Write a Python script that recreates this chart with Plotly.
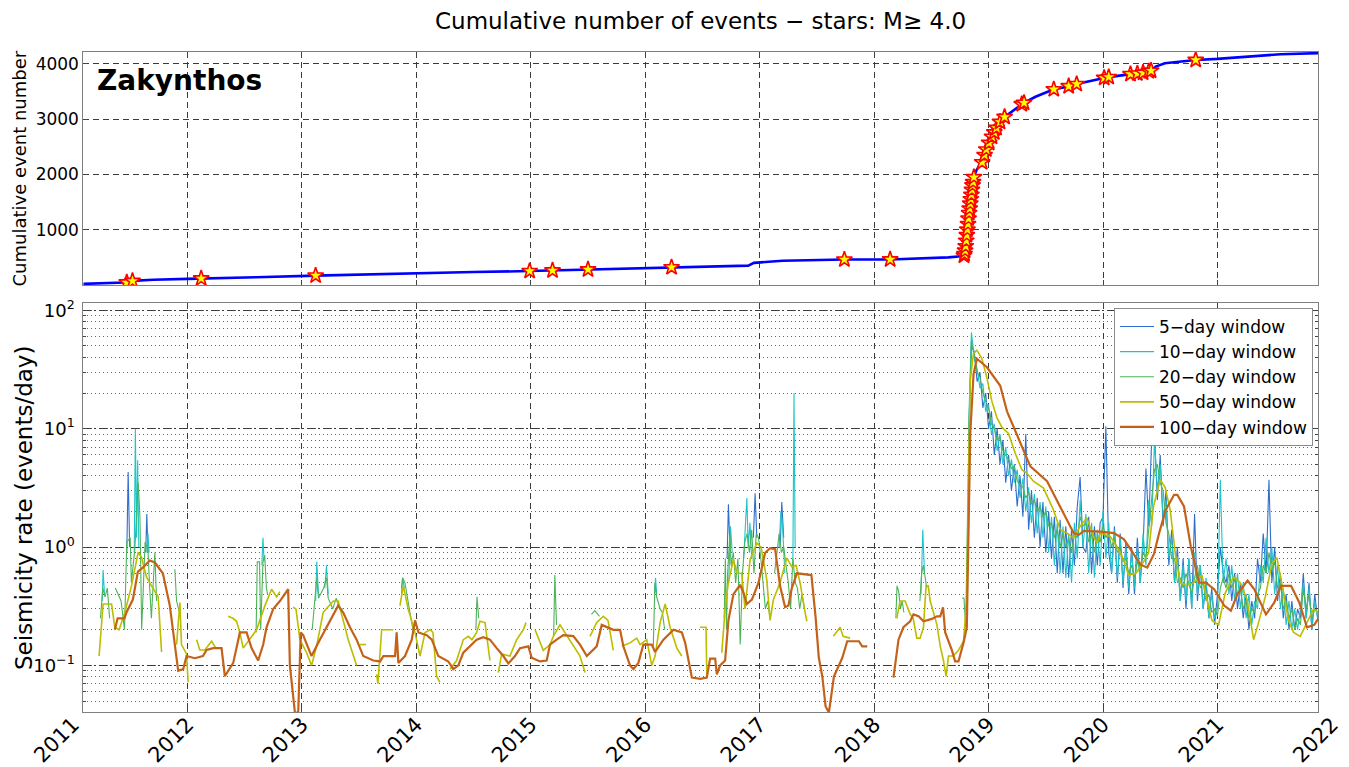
import plotly.graph_objects as go

# ---------------- data (decimal years) ----------------
cum_year = [2011.09, 2011.30, 2011.45, 2011.52, 2011.70, 2012.00, 2012.12, 2012.60, 2013.12, 2013.60,
            2014.00, 2014.50, 2014.99, 2015.19, 2015.50, 2015.90, 2016.23, 2016.48, 2016.70, 2016.90,
            2016.95, 2017.20, 2017.74, 2018.14, 2018.65, 2018.76, 2018.79, 2018.80, 2018.815, 2018.83,
            2018.845, 2018.86, 2018.875, 2018.895, 2018.94, 2018.98, 2019.03, 2019.07, 2019.14, 2019.30,
            2019.41, 2019.57, 2019.73, 2019.77, 2020.01, 2020.05, 2020.24, 2020.35, 2020.42, 2020.46,
            2020.54, 2020.81, 2021.00, 2021.29, 2021.55, 2021.882]
cum_count = [20, 35, 45, 75, 95, 110, 118, 140, 170, 195,
             215, 235, 252, 262, 280, 300, 320, 322, 330, 350,
             400, 440, 460, 462, 500, 520, 540, 700, 1000, 1300,
             1550, 1800, 1980, 2080, 2220, 2450, 2680, 2840, 3040, 3285,
             3405, 3540, 3600, 3635, 3745, 3760, 3815, 3840, 3877, 3950,
             4010, 4070, 4090, 4130, 4175, 4195]

star_year = [2011.47, 2011.52, 2012.12, 2013.12, 2014.99, 2015.19, 2015.50, 2016.23, 2017.74, 2018.14,
             2018.785, 2018.79, 2018.795, 2018.80, 2018.805, 2018.81, 2018.815, 2018.82, 2018.825, 2018.83,
             2018.835, 2018.84, 2018.845, 2018.85, 2018.855, 2018.86, 2018.865, 2018.872,
             2018.944, 2018.965, 2018.98, 2019.005, 2019.03, 2019.05, 2019.07, 2019.10, 2019.14, 2019.29,
             2019.31, 2019.57, 2019.70, 2019.77, 2020.01, 2020.05, 2020.24, 2020.30, 2020.35, 2020.40,
             2020.42, 2020.81]
star_count = [45, 72, 118, 170, 252, 262, 280, 320, 460, 462,
              530, 560, 620, 700, 800, 900, 1000, 1100, 1200, 1300,
              1380, 1470, 1550, 1630, 1720, 1800, 1860, 1950,
              2220, 2350, 2450, 2570, 2680, 2760, 2840, 2950, 3040, 3270,
              3295, 3540, 3595, 3635, 3745, 3760, 3815, 3825, 3840, 3865,
              3877, 4070]

r100_year = [2011.365, 2011.39, 2011.45, 2011.467, 2011.523, 2011.567, 2011.61, 2011.671, 2011.715, 2011.785,
             2011.846, 2011.89, 2011.919, 2011.963, 2011.992,
             2012.065, 2012.135, 2012.167, 2012.225, 2012.298, 2012.327, 2012.40, 2012.458, 2012.517, 2012.56,
             2012.618, 2012.662, 2012.691, 2012.749, 2012.808, 2012.88, 2012.895, 2012.939, 2012.968, 2012.99,
             2013.011, 2013.084, 2013.157, 2013.245, 2013.317, 2013.361, 2013.42, 2013.478, 2013.536, 2013.624,
             2013.683, 2013.712, 2013.814, 2013.828, 2013.843, 2013.901, 2013.96, 2013.989,
             2014.018, 2014.091, 2014.135, 2014.192, 2014.28, 2014.323, 2014.367, 2014.41, 2014.527, 2014.585,
             2014.643, 2014.702, 2014.76, 2014.804, 2014.862, 2014.906, 2014.979,
             2015.008, 2015.08, 2015.139, 2015.168, 2015.226, 2015.284, 2015.372, 2015.43, 2015.489, 2015.576,
             2015.62, 2015.721, 2015.78, 2015.809, 2015.867, 2015.897, 2015.94, 2015.984,
             2016.057, 2016.086, 2016.159, 2016.247, 2016.32, 2016.349, 2016.407, 2016.48, 2016.538, 2016.567,
             2016.611, 2016.626, 2016.654, 2016.698, 2016.727, 2016.771, 2016.829, 2016.859, 2016.888, 2016.932,
             2016.99,
             2017.047, 2017.091, 2017.135, 2017.178, 2017.222, 2017.251, 2017.281, 2017.325, 2017.426, 2017.452,
             2017.488, 2017.517, 2017.547, 2017.576, 2017.605, 2017.649, 2017.692, 2017.722, 2017.765, 2017.867,
             2017.896, 2017.94, None,
             2018.169, 2018.213, 2018.256, 2018.315, 2018.344, 2018.388, 2018.432, 2018.505, 2018.549, 2018.578,
             2018.602, 2018.621, 2018.68, 2018.708, 2018.737, 2018.781, 2018.81, 2018.825, 2018.84, 2018.869,
             2018.898, 2018.986,
             2019.102, 2019.161, 2019.277, 2019.365, 2019.511, 2019.627, 2019.744, 2019.788, 2019.832, 2019.978,
             2020.096, 2020.183, 2020.256, 2020.329, 2020.387, 2020.446, 2020.49, 2020.548, 2020.621, 2020.65,
             2020.708, 2020.767, 2020.839, 2020.898, 2020.971,
             2021.059, 2021.117, 2021.175, 2021.263, 2021.322, 2021.424, 2021.497, 2021.555, 2021.643, 2021.715,
             2021.782, 2021.846, 2021.882]
r100_val = [0.20, 0.25, 0.25, 0.28, 0.36, 0.62, 0.67, 0.77, 0.74, 0.60,
            0.32, 0.15, 0.09, 0.093, 0.12,
            0.115, 0.12, 0.135, 0.14, 0.14, 0.081, 0.105, 0.19, 0.19, 0.14,
            0.11, 0.15, 0.21, 0.30, 0.35, 0.44, 0.10, 0.04, 0.04, 0.19,
            0.18, 0.12, 0.165, 0.24, 0.32, 0.28, 0.21, 0.165, 0.12, 0.11,
            0.108, 0.12, 0.12, 0.19, 0.105, 0.12, 0.165, 0.24,
            0.19, 0.18, 0.165, 0.12, 0.108, 0.093, 0.10, 0.128, 0.165, 0.173,
            0.165, 0.14, 0.12, 0.104, 0.12, 0.14, 0.145,
            0.116, 0.108, 0.11, 0.15, 0.165, 0.18, 0.177, 0.15, 0.12, 0.145,
            0.22, 0.20, 0.20, 0.145, 0.10, 0.093, 0.105, 0.15,
            0.15, 0.13, 0.165, 0.20, 0.19, 0.155, 0.079, 0.077, 0.079, 0.114,
            0.114, 0.084, 0.10, 0.11, 0.24, 0.40, 0.48, 0.41, 0.33, 0.36,
            0.50,
            0.89, 0.98, 0.96, 0.47, 0.31, 0.32, 0.45, 0.60, 0.58, 0.58,
            0.26, 0.116, 0.081, 0.045, 0.04, 0.081, 0.10, 0.116, 0.16, 0.16,
            0.145, 0.145, None,
            0.079, 0.165, 0.21, 0.236, 0.27, 0.26, 0.236, 0.247, 0.26, 0.26,
            0.31, 0.19, 0.134, 0.108, 0.108, 0.155, 0.21, 1.31, 9.1, 29,
            39, 33,
            23, 14, 7.7, 4.8, 3.6, 2.2, 1.31, 1.27, 1.37, 1.35,
            1.31, 1.16, 0.90, 0.71, 0.67, 0.88, 1.31, 2.06, 2.76, 2.76,
            2.2, 1.01, 0.50, 0.50, 0.44,
            0.32, 0.29, 0.40, 0.52, 0.44, 0.27, 0.34, 0.47, 0.47, 0.34,
            0.21, 0.22, 0.25]

r50_year = [2011.228, 2011.263, 2011.337, 2011.365, 2011.403, 2011.453, 2011.511, 2011.569, 2011.599, 2011.642,
            2011.686, 2011.744, 2011.774, None,
            2011.905, 2011.934, 2011.948, 2011.992, 2012.006, None,
            2012.080, 2012.108, 2012.152, 2012.211, 2012.248, None,
            2012.356, 2012.397, 2012.429, 2012.458, 2012.487, 2012.604, 2012.677, 2012.735, 2012.779, 2012.808, None,
            2012.924, 2012.948, 2012.983, 2013.041, 2013.085, 2013.128, 2013.186, 2013.274, 2013.317, 2013.361,
            2013.405, 2013.478, None,
            2013.507, 2013.560, None,
            2013.653, 2013.664, 2013.697, 2013.798, None,
            2013.857, 2013.886, 2013.929, 2013.988, 2014.032, 2014.076, 2014.120, 2014.145, 2014.177, 2014.206, None,
            2014.294, 2014.352, 2014.410, 2014.454, 2014.486, 2014.527, 2014.556, 2014.600, 2014.643, None,
            2014.716, 2014.746, 2014.818, 2014.877, 2014.935, 2014.958, None,
            2015.037, 2015.109, 2015.168, 2015.197, 2015.255, 2015.299, 2015.369, 2015.430, 2015.474, None,
            2015.517, 2015.576, 2015.634, 2015.675, 2015.721, None,
            2015.795, 2015.867, 2015.926, 2015.955, 2016.013, 2016.057, 2016.086, 2016.130, 2016.174, 2016.217,
            2016.276, 2016.319, None,
            2016.479, 2016.531, 2016.538, None,
            2016.669, 2016.698, 2016.726, 2016.770, 2016.800, 2016.843, 2016.872, 2016.916, 2016.975, 2017.012,
            2017.062, 2017.091, 2017.120, 2017.178, 2017.237, 2017.281, 2017.318, 2017.353, 2017.397, 2017.412, None,
            2017.644, 2017.703, 2017.729, 2017.790, None,
            2018.198, 2018.227, 2018.271, 2018.315, 2018.341, 2018.373, 2018.402, 2018.431, 2018.454, 2018.473,
            2018.490, 2018.549, 2018.578, 2018.606, 2018.629, 2018.650, 2018.690, 2018.737, 2018.781, 2018.810,
            2018.825, 2018.839, 2018.868, 2018.898, 2018.942, 2018.985,
            2019.029, 2019.073, 2019.116, 2019.174, 2019.233, 2019.291, 2019.335, 2019.392, 2019.480, 2019.567,
            2019.626, 2019.685, 2019.742, 2019.801, 2019.859, 2019.917, 2019.947, 2019.976,
            2020.063, 2020.122, 2020.180, 2020.223, 2020.287, 2020.340, 2020.398, 2020.441, 2020.500, 2020.543,
            2020.587, 2020.631, 2020.675, 2020.733, 2020.791, 2020.865, 2020.908, 2020.952,
            2021.010, 2021.068, 2021.141, 2021.199, 2021.258, 2021.316, 2021.359, 2021.418, 2021.477, 2021.520,
            2021.578, 2021.621, 2021.665, 2021.723, 2021.782, 2021.840, 2021.882]
r50_val = [0.12, 0.33, 0.33, 0.21, 0.20, 0.28, 0.47, 0.90, 0.82, 0.56,
           0.47, 0.38, 0.13, None,
           0.15, 0.34, 0.15, 0.125, 0.072, None,
           0.165, 0.135, 0.135, 0.16, 0.14, None,
           0.26, 0.25, 0.236, 0.19, 0.14, 0.20, 0.32, 0.44, 0.38, 0.42, None,
           0.31, 0.30, 0.165, 0.128, 0.10, 0.145, 0.28, 0.35, 0.35, 0.24,
           0.165, 0.10, None,
           0.15, 0.15, None,
           0.084, 0.07, 0.20, 0.20, None,
           0.32, 0.47, 0.30, 0.19, 0.12, 0.19, 0.20, 0.19, 0.081, 0.072, None,
           0.093, 0.11, 0.165, 0.176, 0.165, 0.19, 0.236, 0.23, 0.11, None,
           0.087, 0.125, 0.12, 0.165, 0.20, 0.23, None,
           0.20, 0.134, 0.15, 0.176, 0.22, 0.19, 0.15, 0.12, 0.087, None,
           0.176, 0.23, 0.26, 0.24, 0.134, None,
           0.145, 0.155, 0.17, 0.15, 0.165, 0.10, 0.12, 0.23, 0.33, 0.21,
           0.14, 0.12, None,
           0.21, 0.21, 0.084, None,
           0.128, 0.30, 0.50, 0.78, 0.60, 0.60, 0.30, 0.78, 1.08, 1.0,
           0.53, 0.24, 0.36, 0.50, 0.81, 0.68, 0.70, 0.50, 0.28, 0.236, None,
           0.176, 0.21, 0.176, 0.17, None,
           0.25, 0.35, 0.35, 0.27, 0.25, 0.17, 0.17, 0.21, 0.47, 0.47,
           0.35, 0.22, 0.145, 0.11, 0.081, 0.12, 0.12, 0.134, 0.16, 0.36,
           3.5, 25, 43, 46, 39, 27,
           17, 12.4, 10.3, 9.1, 6.2, 4.5, 4.2, 3.6, 3.15, 2.06,
           1.4, 1.31, 1.19, 1.5, 1.76, 1.23, 1.08, 1.31,
           1.23, 1.01, 0.78, 0.58, 0.60, 0.71, 0.89, 2.2, 3.7, 3.2,
           2.06, 0.89, 0.50, 0.47, 0.50, 0.58, 0.36, 0.24,
           0.22, 0.41, 0.56, 0.50, 0.36, 0.165, 0.23, 0.38, 0.73, 0.81,
           0.41, 0.24, 0.19, 0.176, 0.23, 0.30, 0.28]

# short windows: sparse early segments
r20_early_year = [2011.24, 2011.26, 2011.28, 2011.30, 2011.32, None,
                  2011.37, 2011.40, 2011.42, 2011.45, 2011.47, 2011.50, 2011.51, 2011.54, 2011.57, 2011.585,
                  2011.60, 2011.63, 2011.655, 2011.67, 2011.685, 2011.715, 2011.73, None,
                  2011.89, 2011.905, 2011.93, None,
                  2012.60, 2012.61, 2012.63, 2012.64, 2012.66, 2012.675, 2012.69, 2012.70, None,
                  2013.09, 2013.13, 2013.145, 2013.19, 2013.215, 2013.23, 2013.27, 2013.30, 2013.33, 2013.36, None,
                  2013.87, 2013.88, 2013.90, 2013.92, 2013.95, 2013.97, None,
                  2014.52, 2014.53, 2014.545, None,
                  2015.20, 2015.21, 2015.225, None,
                  2015.53, 2015.56, 2015.60, None,
                  2016.07, 2016.085, 2016.10, 2016.13, 2016.15, 2016.17, None,
                  2016.69, 2016.70, 2016.71, 2016.72, 2016.74, 2016.75, 2016.77, 2016.79, 2016.81, 2016.83,
                  2016.85, 2016.87, 2016.89, 2016.91, 2016.93, 2016.95, 2016.97, 2016.99, 2017.01, 2017.03,
                  2017.05, 2017.07, 2017.09, None,
                  2017.13, 2017.15, 2017.17, 2017.19, 2017.21, 2017.23, 2017.25, 2017.27, 2017.29, 2017.31,
                  2017.33, 2017.35, 2017.37, 2017.39, None,
                  2018.19, 2018.20, 2018.215, 2018.23, 2018.245, 2018.26, None,
                  2018.40, 2018.415, 2018.43, 2018.445, 2018.46, None,
                  2018.77, 2018.785, 2018.80]
r20_early_val = [0.25, 0.45, 0.38, 0.45, 0.25, None,
                 0.45, 0.38, 0.35, 0.20, 1.1, 1.2, 0.5, 0.95, 3.5, 1.8,
                 0.2, 1.1, 0.95, 0.45, 0.25, 0.9, 0.35, None,
                 0.65, 0.35, 0.28, None,
                 0.19, 0.75, 0.75, 0.2, 0.75, 0.85, 0.45, 0.40, None,
                 0.20, 0.55, 0.37, 0.45, 0.55, 0.37, 0.30, 0.37, 0.30, 0.30, None,
                 0.45, 0.55, 0.50, 0.38, 0.25, 0.20, None,
                 0.20, 0.38, 0.25, None,
                 0.18, 0.58, 0.22, None,
                 0.27, 0.29, 0.26, None,
                 0.14, 0.5, 0.38, 0.3, 0.28, 0.2, None,
                 0.25, 0.8, 0.2, 0.6, 1.3, 0.7, 0.9, 0.5, 0.8, 0.15,
                 0.6, 1.1, 1.3, 0.9, 1.4, 0.6, 1.3, 1.2, 0.8, 0.5,
                 0.3, 0.35, 0.25, None,
                 0.6, 0.9, 1.3, 0.9, 1.0, 0.7, 0.5, 0.3, 0.8, 0.5,
                 0.45, 0.3, 0.4, 0.3, None,
                 0.25, 0.47, 0.42, 0.30, 0.35, 0.28, None,
                 0.35, 0.6, 0.7, 0.55, 0.45, None,
                 0.37, 0.37, 0.21]

r10_early_year = [2011.255, 2011.263, 2011.275, None,
                  2011.535, 2011.545, 2011.555, 2011.565, 2011.575, None,
                  2011.645, 2011.655, 2011.665, None,
                  2012.65, 2012.66, 2012.67, None,
                  2013.12, 2013.13, 2013.145, None,
                  2013.20, 2013.215, 2013.23, None,
                  2013.87, 2013.88, 2013.895, None,
                  2016.08, 2016.09, 2016.10, None,
                  2016.73, 2016.745, 2016.76, None,
                  2016.86, 2016.875, 2016.888, 2016.90, 2016.915, 2016.93, None,
                  2017.17, 2017.185, 2017.20, 2017.22, None,
                  2017.29, 2017.30, 2017.31, None,
                  2018.41, 2018.425, 2018.44, None]
r10_early_val = [0.35, 0.64, 0.40, None,
                 0.9, 10, 1.2, 5.4, 1.0, None,
                 0.9, 1.3, 0.9, None,
                 0.7, 1.2, 0.75, None,
                 0.35, 0.75, 0.40, None,
                 0.45, 0.70, 0.40, None,
                 0.40, 0.55, 0.45, None,
                 0.40, 0.55, 0.40, None,
                 0.5, 1.5, 0.9, None,
                 0.8, 1.8, 2.6, 1.0, 1.6, 0.8, None,
                 1.0, 2.0, 1.5, 0.6, None,
                 0.7, 20, 1.0, None,
                 0.4, 1.4, 0.6, None]

r5_early_year = [2011.47, 2011.482, 2011.495, None,
                 2011.635, 2011.645, 2011.655, None,
                 2016.715, 2016.727, 2016.74, None,
                 2016.945, 2016.96, 2016.975, None,
                 2017.18, 2017.193, 2017.21, None]
r5_early_val = [0.9, 4.3, 1.0, None,
                0.9, 1.9, 0.9, None,
                0.8, 2.3, 1.0, None,
                1.2, 2.85, 1.2, None,
                1.0, 2.4, 1.2, None]

# short windows: continuous record after the 2018 mainshock
dense_year = [2018.825, 2018.85, 2018.875, 2018.9, 2018.925, 2018.95, 2018.975,
              2019.0, 2019.025, 2019.05, 2019.075, 2019.1, 2019.125, 2019.15, 2019.175, 2019.2, 2019.225,
              2019.25, 2019.275, 2019.3, 2019.325, 2019.35, 2019.375, 2019.4, 2019.425, 2019.45, 2019.475,
              2019.5, 2019.525, 2019.55, 2019.575, 2019.6, 2019.625, 2019.65, 2019.675, 2019.7, 2019.725,
              2019.75, 2019.775, 2019.8, 2019.825, 2019.85, 2019.875, 2019.9, 2019.925, 2019.95, 2019.975,
              2020.0, 2020.025, 2020.05, 2020.075, 2020.1, 2020.125, 2020.15, 2020.175, 2020.2, 2020.225,
              2020.25, 2020.275, 2020.3, 2020.325, 2020.35, 2020.375, 2020.4, 2020.425, 2020.45, 2020.475,
              2020.5, 2020.525, 2020.55, 2020.575, 2020.6, 2020.625, 2020.65, 2020.675, 2020.7, 2020.725,
              2020.75, 2020.775, 2020.8, 2020.825, 2020.85, 2020.875, 2020.9, 2020.925, 2020.95, 2020.975,
              2021.0, 2021.025, 2021.05, 2021.075, 2021.1, 2021.125, 2021.15, 2021.175, 2021.2, 2021.225,
              2021.25, 2021.275, 2021.3, 2021.325, 2021.35, 2021.375, 2021.4, 2021.425, 2021.45, 2021.475,
              2021.5, 2021.525, 2021.55, 2021.575, 2021.6, 2021.625, 2021.65, 2021.675, 2021.7, 2021.725,
              2021.75, 2021.775, 2021.8, 2021.825, 2021.85, 2021.875]
r20_dense = [6, 55, 42, 30, 27, 20, 17,
             15, 11, 10, 8, 8.5, 6.5, 6, 5.5, 4.6, 4.8,
             3.6, 3.4, 3.2, 2.6, 2.9, 2.3, 2.5, 2.0, 2.2, 1.8,
             2.0, 1.5, 1.6, 1.2, 1.4, 1.0, 1.3, 1.0, 1.2, 0.9,
             1.3, 1.2, 1.8, 1.5, 1.6, 1.1, 1.3, 0.9, 1.2, 1.1,
             1.5, 1.2, 1.3, 1.0, 1.2, 0.9, 1.0, 0.75, 0.8, 0.6,
             0.7, 0.55, 0.75, 0.65, 0.9, 0.8, 1.5, 2.5, 4.5, 5.0,
             3.5, 3.0, 1.6, 1.3, 0.8, 0.8, 0.5, 0.55, 0.45, 0.6,
             0.5, 0.4, 0.55, 0.7, 0.45, 0.5, 0.35, 0.4, 0.28, 0.3,
             0.26, 0.45, 0.55, 0.45, 0.6, 0.45, 0.55, 0.4, 0.45, 0.3,
             0.35, 0.25, 0.3, 0.28, 0.4, 0.45, 0.7, 0.6, 0.9, 0.65,
             0.75, 0.45, 0.5, 0.3, 0.35, 0.25, 0.3, 0.2, 0.25, 0.22,
             0.45, 0.3, 0.4, 0.25, 0.3, 0.28]
r10_dense = [10, 65, 40, 32, 22, 24, 14,
             16, 9, 11, 6.5, 9, 5, 7, 4, 5.5, 3.5,
             4.5, 2.6, 3.8, 2.0, 3.2, 1.6, 2.8, 1.3, 2.4, 1.2,
             2.2, 0.9, 1.8, 0.7, 1.6, 0.6, 1.5, 0.55, 1.3, 0.5,
             1.6, 0.8, 2.5, 1.0, 1.9, 0.6, 1.6, 0.55, 1.4, 0.7,
             2.0, 0.8, 1.6, 0.6, 1.4, 0.55, 1.2, 0.5, 1.0, 0.45,
             0.9, 0.45, 1.0, 0.5, 1.3, 0.7, 2.5, 1.5, 8.0, 3.0,
             5.0, 1.8, 2.5, 0.8, 1.2, 0.5, 0.8, 0.35, 0.7, 0.35,
             0.8, 0.3, 0.9, 0.4, 0.7, 0.3, 0.55, 0.25, 0.4, 0.25,
             0.3, 3.7, 0.5, 0.8, 0.4, 0.7, 0.35, 0.6, 0.3, 0.5,
             0.25, 0.4, 0.22, 0.35, 0.3, 0.7, 0.5, 1.2, 0.6, 1.0,
             0.4, 0.7, 0.3, 0.45, 0.22, 0.35, 0.2, 0.3, 0.2, 0.3,
             0.5, 0.25, 0.45, 0.2, 0.35, 0.25]
r5_dense = [8, 50, 45, 25, 30, 15, 20,
            10, 14, 6, 10, 5, 8, 3.5, 6, 3, 5,
            2.2, 4, 1.8, 9, 1.4, 3, 1.2, 2.6, 1.0, 2.4,
            0.9, 2.0, 0.8, 1.8, 0.6, 1.7, 0.6, 1.5, 0.55, 1.4,
            0.7, 2.2, 3.9, 1.0, 0.9, 1.8, 0.6, 1.5, 0.7, 1.6,
            1.8, 10.5, 0.9, 0.6, 1.5, 0.5, 1.3, 0.45, 1.1, 0.4,
            1.0, 0.4, 1.2, 0.5, 1.0, 4.6, 1.5, 8.2, 8.9, 2.5,
            6.0, 1.5, 3.0, 0.7, 1.4, 0.5, 1.0, 0.35, 0.8, 0.3,
            0.8, 0.3, 1.9, 0.35, 0.7, 0.3, 0.5, 0.25, 0.45, 0.22,
            0.4, 1.0, 0.6, 0.5, 0.7, 0.35, 0.6, 0.3, 0.5, 0.25,
            0.4, 0.2, 0.35, 0.25, 0.8, 0.5, 1.3, 0.6, 3.7, 0.5,
            1.0, 0.35, 0.6, 0.25, 0.4, 0.2, 0.35, 0.2, 0.3, 0.25,
            0.6, 0.25, 0.5, 0.2, 0.4, 0.25]

year_ticks = list(range(2011, 2023))
series_names = ["5\u2212day window", "10\u2212day window", "20\u2212day window",
                "50\u2212day window", "100\u2212day window"]
series_colors = ["#2F6FCB", "#1FC4C8", "#4DB35A", "#BDBD00", "#C4621A"]

for a, b in [(cum_year, cum_count), (star_year, star_count), (r100_year, r100_val),
             (r50_year, r50_val), (r20_early_year, r20_early_val), (r10_early_year, r10_early_val),
             (r5_early_year, r5_early_val), (dense_year, r20_dense), (dense_year, r10_dense),
             (dense_year, r5_dense)]:
    assert len(a) == len(b), (len(a), len(b))

# ---------------- figure ----------------
FONT = "DejaVu Sans, Liberation Sans, Arial, sans-serif"
W, H = 1349, 767
L, R, T, B = 73, 17, 52, 55
PW, PH = W - L - R, H - T - B

def fx(px):
    return (px - L) / PW

def fy(py):
    return (H - B - py) / PH

XDOM = [fx(83.3), fx(1318.4)]
XRANGE = [2011.09, 2021.882]
BOTDOM = [0, fy(303)]

fig = go.Figure()

# top panel
fig.add_trace(go.Scatter(x=cum_year, y=cum_count, mode="lines",
                         line=dict(color="#0000FF", width=2.6), showlegend=False,
                         xaxis="x", yaxis="y", hoverinfo="skip"))
fig.add_trace(go.Scatter(x=star_year, y=star_count, mode="markers",
                         marker=dict(symbol="star", size=12, color="#FFFF00",
                                     line=dict(color="#FF0000", width=1.6)),
                         showlegend=False, xaxis="x", yaxis="y", hoverinfo="skip"))

# bottom panel
x5 = r5_early_year + dense_year
y5 = r5_early_val + r5_dense
x10 = r10_early_year + dense_year
y10 = r10_early_val + r10_dense
x20 = r20_early_year + dense_year
y20 = r20_early_val + r20_dense
widths = [1.1, 1.1, 1.1, 1.6, 2.2]
for name, col, w, xs, ys in zip(series_names, series_colors, widths,
                                [x5, x10, x20, r50_year, r100_year],
                                [y5, y10, y20, r50_val, r100_val]):
    fig.add_trace(go.Scatter(x=xs, y=ys, mode="lines", name=name,
                             line=dict(color=col, width=w), connectgaps=False,
                             xaxis="x2", yaxis="y2", hoverinfo="skip"))

# empty trace registering the (hidden-y) subplot that carries the year labels
fig.add_trace(go.Scatter(x=[], y=[], xaxis="x3", yaxis="y3", showlegend=False, hoverinfo="skip"))

GRID = "#3a3a3a"
FRAME = "#808080"
common_x = dict(domain=XDOM, range=XRANGE, tickvals=year_ticks[1:-1], showticklabels=False,
                showgrid=True, gridcolor=GRID, griddash="6px,4px", gridwidth=1,
                showline=True, linecolor=FRAME, linewidth=1, mirror="ticks",
                ticks="inside", ticklen=5, tickcolor="#444", zeroline=False, automargin=False)

fig.update_layout(
    width=W, height=H, autosize=False,
    margin=dict(l=L, r=R, t=T, b=B, autoexpand=False),
    paper_bgcolor="white", plot_bgcolor="rgba(0,0,0,0)",
    font=dict(family=FONT, color="black"),
    xaxis=dict(anchor="y", **common_x),
    yaxis=dict(domain=[fy(285), 1.0], range=[0, 4215], tickvals=[1000, 2000, 3000, 4000],
               tickfont=dict(size=17), showgrid=True, gridcolor=GRID, griddash="6px,4px",
               showline=True, linecolor=FRAME, mirror="ticks", ticks="inside", ticklen=5,
               tickcolor="#444", zeroline=False, anchor="x", automargin=False),
    xaxis2=dict(anchor="y2", **common_x),
    yaxis2=dict(domain=BOTDOM, type="log", range=[-1.3935, 2.0615], anchor="x2",
                tickmode="array", tickvals=[0.1, 1, 10, 100],
                ticktext=["10<sup>\u22121</sup>", "10<sup>0</sup>", "10<sup>1</sup>", "10<sup>2</sup>"],
                tickfont=dict(size=18), ticklabelstandoff=4,
                showgrid=True, gridcolor=GRID, griddash="8px,3px,2px,3px", gridwidth=1,
                minor=dict(dtick="D1", showgrid=True, gridcolor="#666", griddash="1px,3px",
                           ticks="inside", ticklen=3, tickcolor="#444"),
                showline=True, linecolor=FRAME, mirror="ticks", ticks="inside", ticklen=5,
                tickcolor="#444", zeroline=False, automargin=False),
    # axis carrying the year labels (it extends to 2011 / 2022 beyond the plotted span)
    xaxis3=dict(domain=[0, 1], range=[2011, 2022], anchor="y3",
                tickvals=year_ticks, ticktext=[str(v) for v in year_ticks], tickangle=-45,
                tickfont=dict(size=21), ticklabelstandoff=-5,
                showgrid=False, showline=False, zeroline=False, ticks="",
                automargin=False),
    yaxis3=dict(domain=BOTDOM, anchor="x3", visible=False, showgrid=False, zeroline=False,
                automargin=False),
    legend=dict(x=fx(1313), y=fy(308), xanchor="right", yanchor="top",
                bgcolor="white", bordercolor="#8c8c8c", borderwidth=1,
                font=dict(size=17), itemwidth=34, tracegroupgap=0),
)

fig.add_annotation(text="Cumulative number of events \u2212 stars: M\u2265 4.0",
                   x=fx(700), y=fy(21), xref="paper", yref="paper", showarrow=False,
                   xanchor="center", yanchor="middle", font=dict(size=23))
fig.add_annotation(text="<b>Zakynthos</b>", x=fx(95), y=fy(80), xref="paper", yref="paper",
                   showarrow=False, xanchor="left", yanchor="middle", font=dict(size=28))
fig.add_annotation(text="Cumulative event number", x=fx(19), y=fy(168.5), xref="paper", yref="paper",
                   showarrow=False, textangle=-90, xanchor="center", yanchor="middle",
                   font=dict(size=18))
fig.add_annotation(text="Seismicity rate (events/day)", x=fx(24), y=fy(508), xref="paper",
                   yref="paper", showarrow=False, textangle=-90, xanchor="center",
                   yanchor="middle", font=dict(size=23))

fig.write_html("out.html")
